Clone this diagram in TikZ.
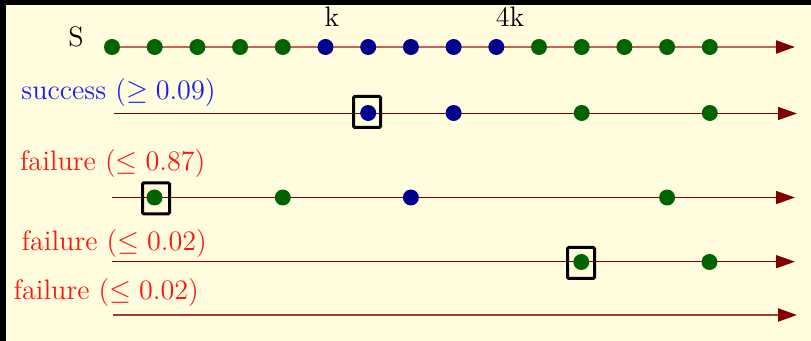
\documentclass[tikz,border=0pt]{standalone}
\usepackage{graphicx}
\usetikzlibrary{arrows.meta}
\definecolor{bgyellow}{RGB}{255,253,222}
\definecolor{axisred}{RGB}{128,0,0}
\definecolor{toplinered}{RGB}{196,98,92}
\definecolor{lastlinered}{RGB}{165,60,52}
\definecolor{dotgreen}{RGB}{0,100,0}
\definecolor{dotblue}{RGB}{0,0,140}
\definecolor{labelblue}{RGB}{25,25,255}
\definecolor{labelred}{RGB}{255,20,20}
\newcommand{\lbltext}[1]{\scalebox{0.978}{#1}}
\tikzset{
  gdot/.style={circle, fill=dotgreen, inner sep=0pt, minimum size=8pt},
  bdot/.style={circle, fill=dotblue, inner sep=0pt, minimum size=8pt},
  axisline/.style={draw=axisred, line width=0.7pt,
    -{Triangle[length=9.5pt,width=6.5pt,color=axisred]}},
  pick/.style={draw=black, line width=1.5pt, rounded corners=0.6pt,
    minimum width=13.5pt, minimum height=15.5pt, inner sep=0pt},
  lbl/.style={font=\fontsize{14.4}{17}\selectfont, inner sep=0pt, anchor=base},
}
\begin{document}
\begin{tikzpicture}[x=0.5pt, y=-0.5pt]
  % canvas and frame edges
  \fill[bgyellow] (0,0) rectangle (811,341);
  \fill[black] (0,0) rectangle (6,341);
  \fill[black] (0,0) rectangle (811,5);
  \useasboundingbox (0,0) rectangle (811,341);

  % sequence S
  \node[lbl, text=black] (lS) at (76,47) {\lbltext{S}};
  \node[lbl, text=black] (lk) at (332,27) {\lbltext{k}};
  \node[lbl, text=black] (l4k) at (510,27) {\lbltext{4k}};
  \coordinate (s0) at (112,47);
  \coordinate (s1) at (795,47);
  \draw[axisline, draw=toplinered, line width=1pt] (s0) -- (s1);
  \foreach \i/\x in {1/112,2/154.7,3/197.4,4/240.1,5/282.8}
    \node[gdot] (sa\i) at (\x,47) {};
  \foreach \i/\x in {6/325.5,7/368.2,8/410.9,9/453.6,10/496.3}
    \node[bdot] (sa\i) at (\x,47) {};
  \foreach \i/\x in {11/539,12/581.7,13/624.4,14/667.1,15/709.8}
    \node[gdot] (sa\i) at (\x,47) {};

  % success line
  \node[lbl, text=labelblue] (lsucc) at (118.5,100) {\lbltext{success ($\geq 0.09$)}};
  \coordinate (a0) at (114,113.5);
  \coordinate (a1) at (797,113.5);
  \draw[axisline] (a0) -- (a1);
  \node[bdot] (a2) at (368.2,113) {};
  \node[bdot] (a3) at (453.6,113) {};
  \node[gdot] (a4) at (581.7,113) {};
  \node[gdot] (a5) at (709.8,113) {};
  \node[pick] (pa) at (367,112) {};

  % first failure line
  \node[lbl, text=labelred] (lf1) at (112.7,170.5) {\lbltext{failure ($\leq 0.87$)}};
  \coordinate (b0) at (112,197.5);
  \coordinate (b1) at (795,197.5);
  \draw[axisline] (b0) -- (b1);
  \node[gdot] (b2) at (154.5,197.5) {};
  \node[gdot] (b3) at (282.8,197.5) {};
  \node[bdot] (b4) at (410.9,197.5) {};
  \node[gdot] (b5) at (667.1,197.5) {};
  \node[pick] (pb) at (156,198.3) {};

  % second failure line
  \node[lbl, text=labelred] (lf2) at (114.3,250.5) {\lbltext{failure ($\leq 0.02$)}};
  \coordinate (c0) at (112,261.7);
  \coordinate (c1) at (795,261.7);
  \draw[axisline] (c0) -- (c1);
  \node[gdot] (c2) at (581.3,262) {};
  \node[gdot] (c3) at (709.5,262) {};
  \node[pick] (pc) at (581,263) {};

  % third failure line
  \node[lbl, text=labelred] (lf3) at (106.3,299.3) {\lbltext{failure ($\leq 0.02$)}};
  \coordinate (d0) at (113,315);
  \coordinate (d1) at (797,315);
  \draw[axisline, draw=lastlinered, line width=1pt] (d0) -- (d1);
\end{tikzpicture}
\end{document}
